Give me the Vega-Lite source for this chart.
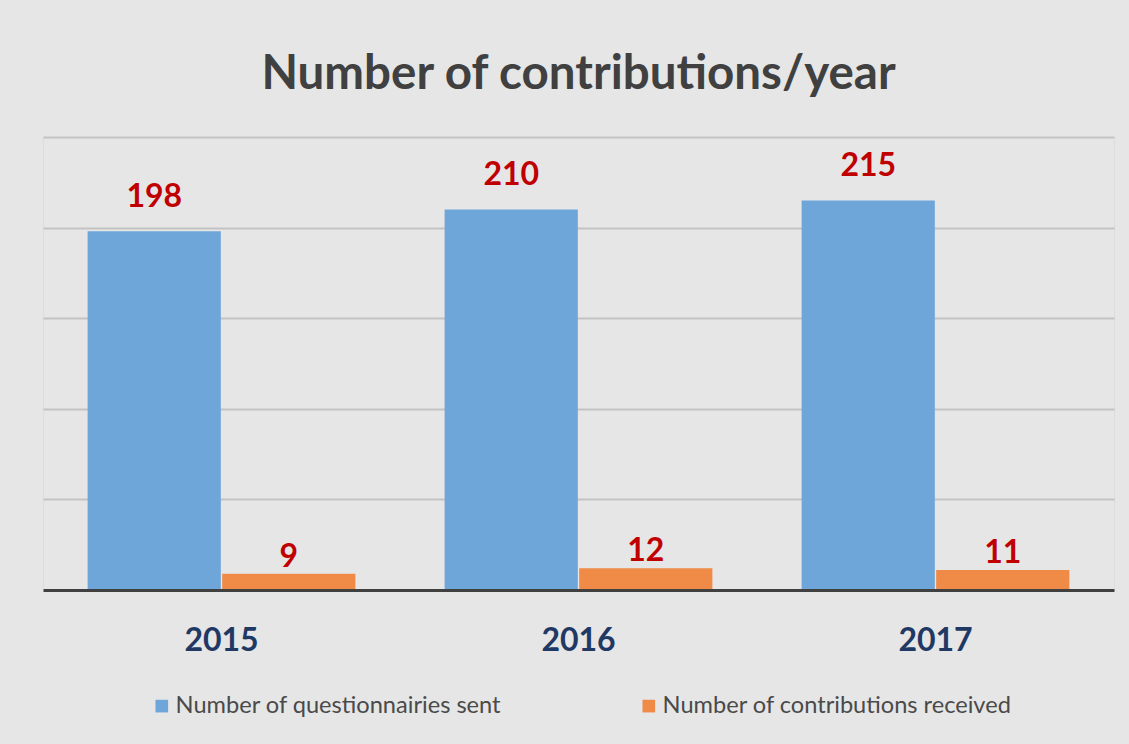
{
  "$schema": "https://vega.github.io/schema/vega-lite/v6.json",
  "width": 1071,
  "height": 453,
  "autosize": {"type": "none"},
  "padding": {"left": 43, "top": 137, "right": 15, "bottom": 154},
  "background": "#e6e6e6",
  "title": {
    "text": "Number of contributions/year",
    "font": "Lato",
    "fontSize": 47.5,
    "fontWeight": "bold",
    "color": "#404040",
    "anchor": "middle",
    "frame": "group",
    "baseline": "alphabetic",
    "offset": 1
  },
  "data": {
    "values": [
      {"year": "2015", "series": "Number of questionnairies sent", "value": 198},
      {"year": "2015", "series": "Number of contributions received", "value": 9},
      {"year": "2016", "series": "Number of questionnairies sent", "value": 210},
      {"year": "2016", "series": "Number of contributions received", "value": 12},
      {"year": "2017", "series": "Number of questionnairies sent", "value": 215},
      {"year": "2017", "series": "Number of contributions received", "value": 11}
    ]
  },
  "encoding": {
    "x": {
      "field": "year",
      "type": "nominal",
      "scale": {"paddingInner": 0.25, "paddingOuter": 0.125},
      "axis": {
        "title": null,
        "labelAngle": 0,
        "ticks": false,
        "tickSize": 0,
        "domain": true,
        "domainColor": "#404040",
        "domainWidth": 3,
        "labelFont": "Lato",
        "labelFontWeight": "bold",
        "labelFontSize": 32,
        "labelColor": "#1f3864",
        "labelBaseline": "alphabetic",
        "labelPadding": 60,
        "zindex": 1
      }
    },
    "xOffset": {
      "field": "series",
      "type": "nominal",
      "sort": ["Number of questionnairies sent", "Number of contributions received"],
      "scale": {"paddingInner": 0.01}
    },
    "y": {
      "field": "value",
      "type": "quantitative",
      "scale": {"domain": [0, 250]},
      "axis": {
        "values": [50, 100, 150, 200, 250],
        "labels": false,
        "ticks": false,
        "domain": false,
        "title": null,
        "grid": true,
        "gridColor": "#c3c3c3",
        "gridWidth": 2
      }
    }
  },
  "layer": [
    {
      "mark": {"type": "bar"},
      "encoding": {
        "color": {
          "field": "series",
          "type": "nominal",
          "scale": {
            "domain": ["Number of questionnairies sent", "Number of contributions received"],
            "range": ["#6fa6d9", "#ef8a47"]
          },
          "legend": {
            "orient": "none",
            "legendX": 107,
            "legendY": 557,
            "direction": "horizontal",
            "title": null,
            "symbolType": "square",
            "symbolSize": 160,
            "symbolStrokeWidth": 0,
            "labelFont": "Lato",
            "labelFontSize": 23.6,
            "labelColor": "#4a4a4a",
            "labelOffset": 2,
            "columnPadding": 135,
            "labelLimit": 0
          }
        }
      }
    },
    {
      "transform": [{"filter": "datum.series === 'Number of questionnairies sent'"}],
      "mark": {
        "type": "text",
        "dy": -24,
        "baseline": "alphabetic",
        "font": "Lato",
        "fontWeight": "bold",
        "fontSize": 32,
        "color": "#c00000"
      },
      "encoding": {"text": {"field": "value", "type": "quantitative"}}
    },
    {
      "transform": [{"filter": "datum.series === 'Number of contributions received'"}],
      "mark": {
        "type": "text",
        "dy": -7,
        "baseline": "alphabetic",
        "font": "Lato",
        "fontWeight": "bold",
        "fontSize": 32,
        "color": "#c00000"
      },
      "encoding": {"text": {"field": "value", "type": "quantitative"}}
    }
  ]
}
